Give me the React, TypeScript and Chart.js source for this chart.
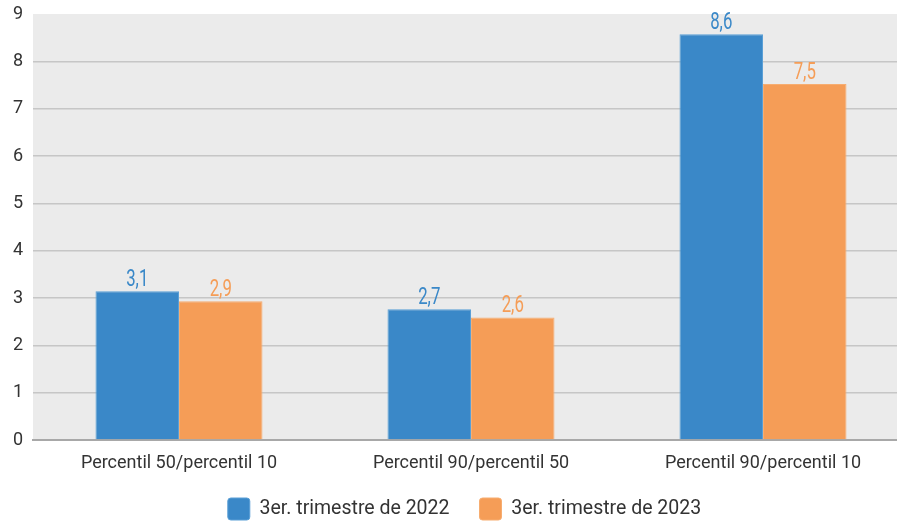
import React, { useEffect, useRef } from "react";
import { Chart, registerables } from "chart.js";

Chart.register(...registerables);

const categories = ["Percentil 50/percentil 10", "Percentil 90/percentil 50", "Percentil 90/percentil 10"];
const series2022 = [3.14, 2.76, 8.57];
const series2023 = [2.93, 2.59, 7.52];
const labels2022 = ["3,1", "2,7", "8,6"];
const labels2023 = ["2,9", "2,6", "7,5"];
const seriesNames = ["3er. trimestre de 2022", "3er. trimestre de 2023"];
const yTicks = [0, 1, 2, 3, 4, 5, 6, 7, 8, 9];

const BLUE = "#3a88c8";
const ORANGE = "#f59d57";
const FONT = "Roboto, 'Noto Sans', sans-serif";

const bgPlugin = {
  id: "plotBg",
  beforeDraw(chart: any) {
    const { ctx, chartArea } = chart;
    ctx.save();
    ctx.fillStyle = "#ebebeb";
    ctx.fillRect(chartArea.left, chartArea.top, chartArea.right - chartArea.left, chartArea.bottom - chartArea.top);
    ctx.restore();
  },
};

const legendTweakPlugin = {
  id: "legendTweak",
  afterLayout(chart: any) {
    const lg = chart.legend;
    if (lg) {
      lg.options.labels.padding = 30;
      lg.top = 468;
      lg.bottom = 550;
      lg.height = 82;
      lg.left -= 14;
      lg.right -= 14;
    }
  },
};

const valueLabelPlugin = {
  id: "valueLabels",
  afterDatasetsDraw(chart: any) {
    const { ctx } = chart;
    const texts = [labels2022, labels2023];
    const colors = [BLUE, ORANGE];
    chart.data.datasets.forEach((_: any, di: number) => {
      const meta = chart.getDatasetMeta(di);
      meta.data.forEach((bar: any, i: number) => {
        ctx.save();
        ctx.font = "400 24px Roboto, sans-serif";
        ctx.textAlign = "center";
        ctx.textBaseline = "alphabetic";
        ctx.fillStyle = colors[di];
        ctx.translate(bar.x, bar.y - 5);
        ctx.scale(0.7, 1);
        ctx.fillText(texts[di][i], 0, 0);
        ctx.restore();
      });
    });
  },
};

export default function App() {
  const ref = useRef<HTMLCanvasElement>(null);
  useEffect(() => {
    document.body.style.margin = "0";
    const chart = new Chart(ref.current!, {
      type: "bar",
      data: {
        labels: categories,
        datasets: [
          { label: seriesNames[0], data: series2022, backgroundColor: BLUE, borderColor: "#5a9fd6", borderWidth: 1 },
          { label: seriesNames[1], data: series2023, backgroundColor: ORANGE, borderColor: "#f7ad70", borderWidth: 1 },
        ],
      },
      options: {
        animation: false,
        responsive: false,
        maintainAspectRatio: false,
        layout: { padding: { left: 8, right: 0, top: 0, bottom: 0 } },
        datasets: { bar: { categoryPercentage: 0.572, barPercentage: 1 } } as any,
        plugins: {
          legend: {
            position: "bottom",
            labels: {
              boxWidth: 22,
              boxHeight: 22,
              useBorderRadius: true,
              borderRadius: 3,
              padding: 10,
              color: "#333",
              font: { family: FONT, size: 19.5 },
            },
          },
          tooltip: { enabled: false },
        },
        scales: {
          x: {
            afterFit: (axis: any) => {
              axis.height = 41;
            },
            grid: { display: false, drawTicks: false },
            border: { color: "#a8a8a8", width: 2 },
            ticks: { color: "#333", padding: 13, font: { family: FONT, size: 18 } },
          },
          y: {
            min: 0,
            max: 9,
            afterBuildTicks: (axis: any) => {
              axis.ticks = yTicks.map((v) => ({ value: v }));
            },
            afterFit: (axis: any) => {
              axis.width = 25;
              axis.paddingTop = 14;
            },
            grid: {
              drawTicks: false,
              color: (c: any) => (c.tick && (c.tick.value === 9 || c.tick.value === 0) ? "rgba(0,0,0,0)" : "#c6c6c6"),
              lineWidth: 1.5,
            },
            border: { display: false },
            ticks: {
              color: "#333",
              padding: 10,
              font: { family: FONT, size: 18 },
            },
          },
        },
      },
      plugins: [bgPlugin, legendTweakPlugin, valueLabelPlugin],
    });
    return () => chart.destroy();
  }, []);
  return (
    <div style={{ width: 897, height: 523, overflow: "hidden" }}>
      <canvas ref={ref} width={909} height={523} style={{ display: "block" }} />
    </div>
  );
}
